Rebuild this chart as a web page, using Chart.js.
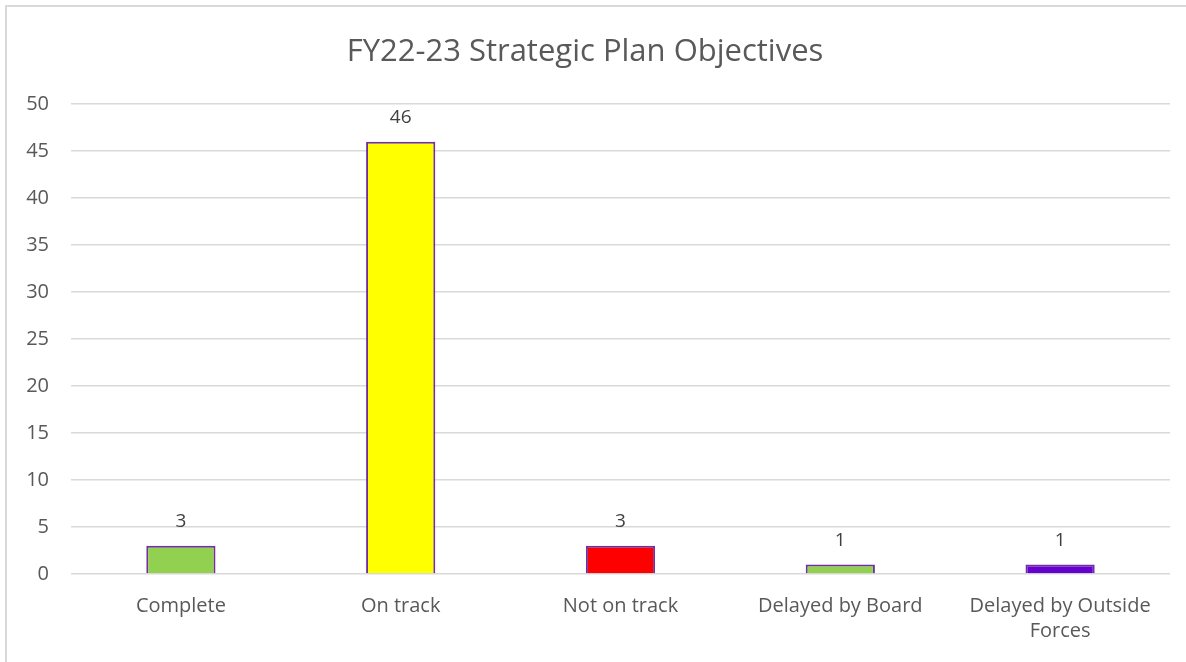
<!DOCTYPE html>
<html>
<head>
<meta charset="utf-8">
<script src="https://cdn.jsdelivr.net/npm/chart.js@4"></script>
<style>
  html, body { margin: 0; padding: 0; background: #fff; overflow: hidden; }
  #wrap { position: relative; width: 1186px; height: 662px; overflow: hidden; }
  #frame { position: absolute; left: 5px; top: 5px; width: 1300px; height: 800px; border: 2px solid #d9d9d9; }
  #myCanvas { position: absolute; left: 0; top: 0; }
</style>
</head>
<body>
<div id="wrap">
  <div id="frame"></div>
  <canvas id="myCanvas" width="1186" height="662"></canvas>
</div>
<script>
const categories = [
  "Complete",
  "On track",
  "Not on track",
  "Delayed by Board",
  ["Delayed by Outside", "Forces"],
];
const objectiveCounts = [3, 46, 3, 1, 1];
const barColors = ["#92d050", "#ffff00", "#ff0000", "#92d050", "#6600cc"];
const yTicks = [0, 5, 10, 15, 20, 25, 30, 35, 40, 45, 50];

const fontFamily = "'Open Sans', 'Noto Sans', sans-serif";

// draws the count above each bar
const valueLabels = {
  id: "valueLabels",
  afterDatasetsDraw(chart) {
    const ctx = chart.ctx;
    const meta = chart.getDatasetMeta(0);
    ctx.save();
    ctx.font = "19px " + fontFamily;
    ctx.fillStyle = "#404040";
    ctx.textAlign = "center";
    ctx.textBaseline = "middle";
    meta.data.forEach((bar, i) => {
      ctx.fillText(String(objectiveCounts[i]), bar.x, bar.y - 24);
    });
    ctx.restore();
  },
};

const line = document.getElementById("myCanvas");
new Chart(line, {
  type: "bar",
  data: {
    labels: categories,
    datasets: [
      {
        data: objectiveCounts,
        backgroundColor: barColors,
        borderColor: "#7030a0",
        borderWidth: 2,
        borderSkipped: "bottom",
        categoryPercentage: 1,
        barPercentage: 0.315,
      },
    ],
  },
  options: {
    responsive: false,
    animation: false,
    layout: {
      padding: { left: 0, right: 16, top: 0, bottom: 0 },
    },
    plugins: {
      legend: { display: false },
      tooltip: { enabled: false },
      title: {
        display: true,
        text: "FY22-23 Strategic Plan Objectives",
        color: "#595959",
        font: { family: fontFamily, size: 31, weight: "normal", lineHeight: 1.2 },
        padding: { top: 34, bottom: 33 },
      },
    },
    scales: {
      x: {
        grid: { display: false },
        border: { display: false },
        ticks: {
          color: "#595959",
          font: { family: fontFamily, size: 20, lineHeight: 1.25 },
          padding: 12,
          maxRotation: 0,
          autoSkip: false,
        },
        afterFit(scale) {
          scale.height = 88;
        },
      },
      y: {
        min: 0,
        max: 50,
        border: { display: false },
        grid: { color: "#d9d9d9", lineWidth: 1.5, drawTicks: false },
        afterBuildTicks(scale) {
          scale.ticks = yTicks.map((v) => ({ value: v }));
        },
        ticks: {
          color: "#595959",
          font: { family: fontFamily, size: 20 },
          padding: 22,
        },
        afterFit(scale) {
          scale.width = 71;
        },
      },
    },
  },
  plugins: [valueLabels],
});
</script>
</body>
</html>
